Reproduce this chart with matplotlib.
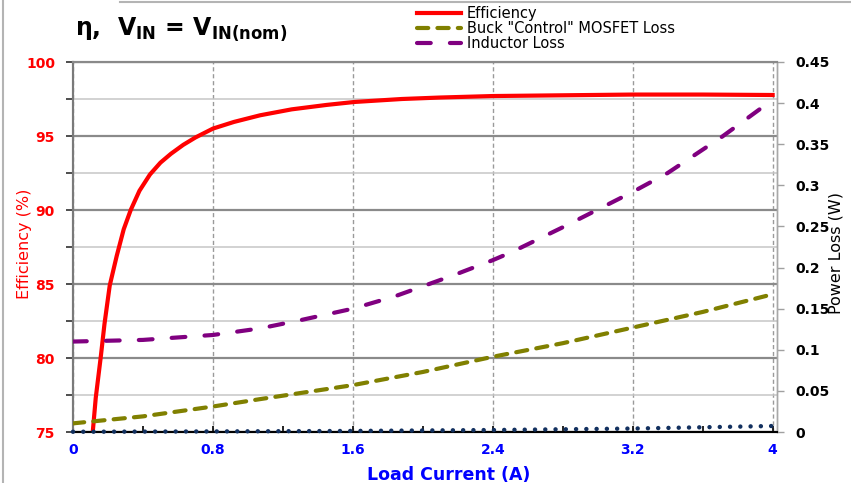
import matplotlib
matplotlib.use('Agg')
import matplotlib.pyplot as plt
from matplotlib.lines import Line2D
from matplotlib.ticker import MultipleLocator

plt.rcParams['font.family'] = ['DejaVu Sans']
plt.rcParams['mathtext.fontset'] = 'dejavusans'
plt.rcParams['mathtext.default'] = 'bf'

# ---------------- data ----------------
eff_current = [0.11, 0.13, 0.16, 0.18, 0.21, 0.25, 0.29, 0.33, 0.38, 0.44, 0.50, 0.56,
               0.63, 0.70, 0.80, 0.92, 1.07, 1.25, 1.45, 1.61, 1.88, 2.1, 2.4, 2.8,
               3.2, 3.6, 4.0]
efficiency = [74.6, 77.3, 80.2, 82.3, 84.9, 86.9, 88.7, 90.0, 91.3, 92.4, 93.2, 93.8,
              94.4, 94.9, 95.5, 95.95, 96.4, 96.8, 97.1, 97.3, 97.5, 97.6, 97.7, 97.75,
              97.8, 97.8, 97.77]

mosfet_current = [0, 0.4, 0.8, 1.07, 1.6, 2.0, 2.4, 2.8, 3.2, 3.6, 4.0]
mosfet_loss = [0.0105, 0.019, 0.031, 0.040, 0.057, 0.073, 0.0915, 0.108, 0.127, 0.146, 0.1675]

ind_current = [0, 0.4, 0.8, 1.07, 1.3, 1.6, 1.84, 2.18, 2.4, 2.51, 2.8, 3.2, 3.4, 3.71, 4.0]
inductor_loss = [0.110, 0.112, 0.118, 0.126, 0.136, 0.150, 0.165, 0.191, 0.209, 0.219,
                 0.249, 0.292, 0.315, 0.359, 0.404]

dot_current = [0, 0.8, 1.6, 2.4, 3.2, 4.0]
dot_loss = [0.0003, 0.0007, 0.0013, 0.0024, 0.0042, 0.0073]

x_ticks = [0, 0.8, 1.6, 2.4, 3.2, 4.0]
x_ticklabels = ['0', '0.8', '1.6', '2.4', '3.2', '4']
eff_ticks = [75, 80, 85, 90, 95, 100]
eff_ticklabels = ['75', '80', '85', '90', '95', '100']
loss_ticks = [0, 0.05, 0.1, 0.15, 0.2, 0.25, 0.3, 0.35, 0.4, 0.45]
loss_ticklabels = ['0', '0.05', '0.1', '0.15', '0.2', '0.25', '0.3', '0.35', '0.4', '0.45']

series_labels = ['Efficiency', 'Buck "Control" MOSFET Loss', 'Inductor Loss']

# ---------------- figure ----------------
W, H = 851, 483
fig = plt.figure(figsize=(W / 100, H / 100), dpi=100)
L, R, T, B = 73, 777, 62, 432
ax = fig.add_axes([L / W, 1 - B / H, (R - L) / W, (B - T) / H])
ax2 = ax.twinx()

ax.set_xlim(0, 4.025)
ax.set_ylim(75, 100)
ax2.set_ylim(0, 0.45)

# grid
ax.yaxis.set_minor_locator(MultipleLocator(2.5))
ax.xaxis.set_minor_locator(MultipleLocator(0.4))
ax.set_axisbelow(True)
ax.yaxis.grid(True, which='major', color='#8a8a8a', lw=1.6)
ax.yaxis.grid(True, which='minor', color='#c6c6c6', lw=1.1)
ax.xaxis.grid(True, which='major', color='#9a9a9a', lw=1.0, ls=(0, (3, 2)))

# series
l_eff, = ax.plot(eff_current, efficiency, color='#ff0000', lw=3, zorder=3)
l_mos, = ax2.plot(mosfet_current, mosfet_loss, color='#808000', lw=3,
                  ls=(0, (2.7, 2.2)), dash_capstyle='round', zorder=3)
l_ind, = ax2.plot(ind_current, inductor_loss, color='#800080', lw=3,
                  ls=(0, (3.3, 4.6)), dash_capstyle='round', zorder=3)
l_dot, = ax2.plot(dot_current, dot_loss, color='#12305f', lw=3.2,
                  ls=(0, (0.01, 2.3)), dash_capstyle='round', zorder=4, clip_on=False)

# ticks
ax.set_xticks(x_ticks, x_ticklabels, fontsize=10, fontweight='bold', color='#0000ff')
ax.set_yticks(eff_ticks, eff_ticklabels, fontsize=10, fontweight='bold', color='#ff0000')
ax2.set_yticks(loss_ticks, loss_ticklabels, fontsize=10, fontweight='bold', color='black')

ax.tick_params(axis='x', which='both', direction='in', length=4, width=1.2,
               color='black', pad=8)
ax.tick_params(axis='y', which='both', direction='out', length=5, width=1.3,
               color='#404040', pad=8)
ax2.tick_params(axis='y', which='both', direction='out', length=5, width=1.0,
                color='#a0a0a0', pad=8)

# spines
for a in (ax, ax2):
    a.spines['left'].set_color('#7a7a7a')
    a.spines['left'].set_linewidth(1.5)
    a.spines['bottom'].set_color('black')
    a.spines['bottom'].set_linewidth(1.5)
    a.spines['top'].set_color('#8a8a8a')
    a.spines['top'].set_linewidth(1.5)
    a.spines['right'].set_color('#a8a8a8')
    a.spines['right'].set_linewidth(1.0)

# axis labels
ax.set_xlabel('Load Current (A)', fontsize=12.5, fontweight='bold', color='#0000ff',
              va='center')
ax.xaxis.set_label_coords((449 - L) / (R - L), (B - 475) / (B - T))
ax.set_ylabel('Efficiency (%)', fontsize=11.5, color='#ff0000', va='center')
ax.yaxis.set_label_coords((25 - L) / (R - L), (B - 244) / (B - T))
ax2.set_ylabel('Power Loss (W)', fontsize=11.5, color='black', va='center', rotation=90)
ax2.yaxis.set_label_coords((836 - L) / (R - L), (B - 253) / (B - T))

# title
fig.text(75 / W, 1 - 30 / H, 'η,  V$_{IN}$ = V$_{IN(nom)}$', fontsize=17,
         fontweight='bold', va='center', ha='left')

# legend
fig.legend(handles=[l_eff, l_mos, l_ind], labels=series_labels, loc='upper left',
           bbox_to_anchor=(417 / W, 1 - 6 / H), frameon=False, fontsize=10.5,
           handlelength=3.0, handletextpad=0.4, labelspacing=0.0,
           borderpad=0, borderaxespad=0)

# figure border lines
fig.add_artist(Line2D([3 / W, 3 / W], [0, 1], transform=fig.transFigure,
                      color='#b4b4b4', lw=1.5))
fig.add_artist(Line2D([120 / W, 1], [1 - 2 / H, 1 - 2 / H], transform=fig.transFigure,
                      color='#b4b4b4', lw=1.5))

fig.savefig('out.png', dpi=100)
